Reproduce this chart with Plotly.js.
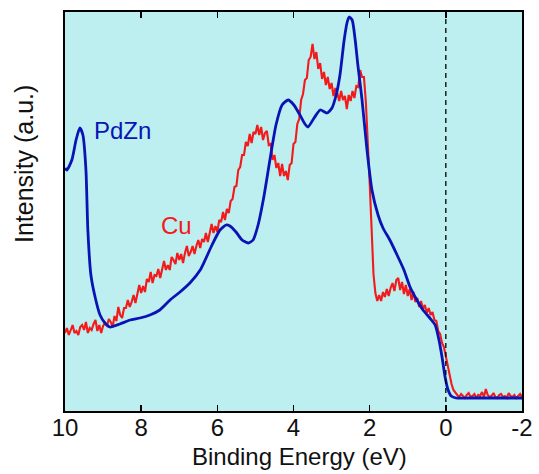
<!DOCTYPE html>
<html>
<head>
<meta charset="utf-8">
<script src="https://cdn.plot.ly/plotly-3.0.1.min.js"></script>
<style>html,body{margin:0;padding:0;background:#fff;}#chart{width:539px;height:474px;}</style>
</head>
<body>
<div id="chart"></div>
<script>
// Binding energy tick labels
const tickVals = [10, 8, 6, 4, 2, 0, -2];
const tickText = ['10', '8', '6', '4', '2', '0', '-2'];

// PdZn (blue) spectrum
const pdznX = [10.00, 9.95, 9.82, 9.71, 9.61, 9.53, 9.45, 9.40, 9.32, 9.21, 9.08, 8.95, 8.82, 8.56, 8.29, 8.03, 7.77, 7.51, 7.24, 6.98, 6.72, 6.45, 6.32, 6.14, 5.93, 5.77, 5.67, 5.51, 5.35, 5.19, 5.06, 4.93, 4.77, 4.62, 4.46, 4.30, 4.14, 3.99, 3.83, 3.70, 3.62, 3.46, 3.30, 3.12, 2.99, 2.88, 2.78, 2.67, 2.59, 2.54, 2.46, 2.38, 2.31, 2.20, 2.07, 1.94, 1.78, 1.65, 1.47, 1.28, 1.10, 0.94, 0.76, 0.60, 0.42, 0.28, 0.18, 0.10, 0.02, -0.06, -0.14, -0.27, -0.64, -2.00];
const pdznY = [243, 241, 251, 271, 283, 276, 241, 181, 136, 114, 96, 88, 84, 87, 91, 93, 96, 101, 111, 119, 128, 141, 151, 166, 181, 186, 185, 179, 171, 168, 171, 186, 216, 251, 286, 306, 311, 306, 296, 287, 284, 293, 301, 298, 303, 316, 336, 371, 389, 394, 391, 371, 346, 311, 261, 221, 196, 183, 171, 156, 141, 124, 111, 101, 93, 86, 71, 54, 34, 21, 15, 13, 13, 13];

// Cu (red) spectrum
const cuX = [10.00, 9.95, 9.90, 9.85, 9.80, 9.75, 9.70, 9.65, 9.60, 9.55, 9.50, 9.45, 9.40, 9.35, 9.30, 9.25, 9.20, 9.15, 9.10, 9.05,
  9.00, 8.95, 8.90, 8.85, 8.80, 8.75, 8.70, 8.65, 8.60, 8.55, 8.50, 8.45, 8.40, 8.35, 8.30, 8.25, 8.20, 8.15, 8.10, 8.05,
  8.00, 7.95, 7.90, 7.85, 7.80, 7.75, 7.70, 7.65, 7.60, 7.55, 7.50, 7.45, 7.40, 7.35, 7.30, 7.25, 7.20, 7.15, 7.10, 7.05,
  7.00, 6.95, 6.90, 6.85, 6.80, 6.75, 6.70, 6.65, 6.60, 6.55, 6.50, 6.45, 6.40, 6.35, 6.30, 6.25, 6.20, 6.15, 6.10, 6.05,
  6.00, 5.95, 5.90, 5.85, 5.80, 5.75, 5.70, 5.65, 5.60, 5.55, 5.50, 5.45, 5.40, 5.35, 5.30, 5.25, 5.20, 5.15, 5.10, 5.05,
  5.00, 4.95, 4.90, 4.85, 4.80, 4.75, 4.70, 4.65, 4.60, 4.55, 4.50, 4.45, 4.40, 4.35, 4.30, 4.25, 4.20, 4.15, 4.10, 4.05,
  4.00, 3.95, 3.90, 3.85, 3.80, 3.75, 3.70, 3.65, 3.60, 3.55, 3.50, 3.45, 3.40, 3.35, 3.30, 3.25, 3.20, 3.15, 3.10, 3.05,
  3.00, 2.95, 2.90, 2.85, 2.80, 2.75, 2.70, 2.65, 2.60, 2.55, 2.50, 2.45, 2.40, 2.35, 2.30, 2.25, 2.20, 2.15, 2.10, 2.05,
  2.00, 1.95, 1.90, 1.85, 1.80, 1.75, 1.70, 1.65, 1.60, 1.55, 1.50, 1.45, 1.40, 1.35, 1.30, 1.25, 1.20, 1.15, 1.10, 1.05,
  1.00, 0.95, 0.90, 0.85, 0.80, 0.75, 0.70, 0.65, 0.60, 0.55, 0.50, 0.45, 0.40, 0.35, 0.30, 0.25, 0.20, 0.15, 0.10, 0.05,
  0.00, -0.05, -0.10, -0.15, -0.20, -0.25, -0.30, -0.35, -0.40, -0.45, -0.50, -0.55, -0.60, -0.65, -0.70, -0.75, -0.80, -0.85, -0.90, -0.95,
  -1.00, -1.05, -1.10, -1.15, -1.20, -1.25, -1.30, -1.35, -1.40, -1.45, -1.50, -1.55, -1.60, -1.65, -1.70, -1.75, -1.80, -1.85, -1.90, -1.95,
  -2.00];
const cuY = [78, 83, 76, 82, 86, 78, 80, 76, 84, 86, 81, 89, 78, 83, 81, 87, 91, 80, 86, 78,
  85, 88, 85, 92, 89, 84, 95, 90, 104, 96, 93, 103, 103, 111, 104, 109, 116, 108, 118, 126,
  118, 125, 119, 132, 129, 139, 128, 136, 135, 142, 133, 143, 150, 141, 146, 141, 154, 151, 147, 158,
  151, 157, 148, 158, 165, 155, 159, 165, 157, 165, 171, 163, 172, 169, 178, 169, 179, 187, 178, 185,
  179, 191, 189, 199, 191, 202, 198, 210, 212, 224, 225, 241, 244, 256, 256, 269, 265, 277, 268, 279,
  277, 286, 276, 284, 271, 278, 280, 266, 267, 251, 256, 243, 248, 235, 247, 235, 240, 231, 246, 248,
  267, 269, 287, 292, 311, 317, 331, 333, 351, 354, 367, 352, 359, 342, 348, 332, 339, 326, 334, 322,
  328, 315, 323, 318, 310, 320, 311, 315, 302, 316, 310, 320, 313, 325, 324, 341, 334, 334, 309, 272,
  228, 183, 137, 118, 110, 116, 110, 119, 114, 122, 115, 123, 128, 120, 131, 133, 121, 129, 117, 126,
  115, 122, 111, 119, 109, 113, 104, 110, 102, 106, 98, 103, 96, 99, 91, 90, 80, 77, 68, 64,
  54, 45, 34, 27, 21, 18, 16, 14, 17, 15, 13, 16, 18, 14, 15, 17, 13, 16, 15, 19,
  14, 22, 16, 14, 15, 18, 14, 13, 16, 17, 14, 15, 13, 18, 15, 14, 16, 13, 15, 17,
  14];

// Fermi level marker
const fermiX = [0, 0];
const fermiY = [0, 399];

const font = 'Liberation Sans, Arial, sans-serif';
const blue = '#0a14b4';
const red = '#f21a1a';

const traces = [
  { x: cuX, y: cuY, type: 'scatter', mode: 'lines', name: 'Cu',
    line: { color: red, width: 2.1 }, hoverinfo: 'skip' },
  { x: pdznX, y: pdznY, type: 'scatter', mode: 'lines', name: 'PdZn',
    line: { color: blue, width: 2.8, shape: 'spline', smoothing: 0.6 }, hoverinfo: 'skip' },
  { x: fermiX, y: fermiY, type: 'scatter', mode: 'lines', name: 'EF',
    line: { color: '#000', width: 1.3, dash: '5px,4px' }, hoverinfo: 'skip' }
];

const layout = {
  width: 539, height: 474,
  margin: { l: 65, r: 17, t: 12, b: 63 },
  paper_bgcolor: '#ffffff',
  plot_bgcolor: '#bdeff0',
  showlegend: false,
  font: { family: font, color: '#111', size: 24 },
  xaxis: {
    range: [10, -2],
    tickvals: tickVals, ticktext: tickText,
    ticks: 'inside', ticklen: 6, tickwidth: 1.5, tickcolor: '#000',
    ticklabelstandoff: -6,
    showline: true, linecolor: '#000', linewidth: 2, mirror: 'ticks',
    showgrid: false, zeroline: false,
    tickfont: { family: font, size: 24, color: '#111' }
  },
  yaxis: {
    range: [0, 399],
    showticklabels: false, ticks: '',
    showline: true, linecolor: '#000', linewidth: 2, mirror: true,
    showgrid: false, zeroline: false
  },
  annotations: [
    { text: 'Binding Energy (eV)', x: 0.514, y: -0.114, xref: 'paper', yref: 'paper',
      xanchor: 'center', yanchor: 'middle', showarrow: false,
      font: { family: font, size: 24, color: '#111' } },
    { text: 'Intensity (a.u.)', x: -0.0897, y: 0.619, xref: 'paper', yref: 'paper',
      xanchor: 'center', yanchor: 'middle', textangle: -90, showarrow: false,
      font: { family: font, size: 25, color: '#111' } },
    { text: 'PdZn', x: 8.50, y: 281, xref: 'x', yref: 'y', xanchor: 'center', yanchor: 'middle',
      showarrow: false, font: { family: font, size: 24, color: blue } },
    { text: 'Cu', x: 7.06, y: 186, xref: 'x', yref: 'y', xanchor: 'center', yanchor: 'middle',
      showarrow: false, font: { family: font, size: 24, color: red } }
  ]
};

Plotly.newPlot('chart', traces, layout, { staticPlot: true, displayModeBar: false });
</script>
</body>
</html>
